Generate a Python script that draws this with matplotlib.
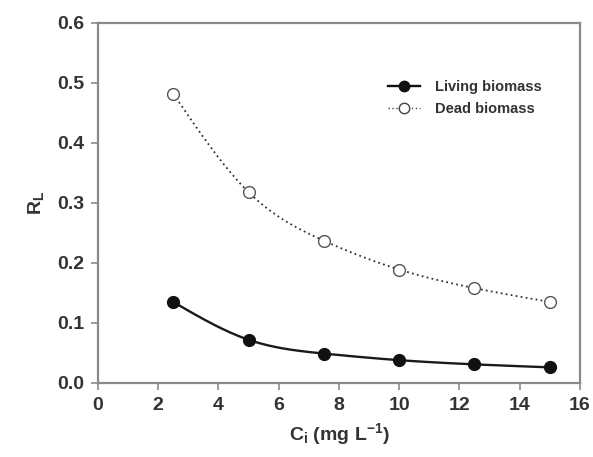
import matplotlib
matplotlib.use("Agg")
import matplotlib.pyplot as plt
import numpy as np

plt.rcParams['font.family'] = ['Liberation Sans', 'DejaVu Sans']
plt.rcParams['font.weight'] = 'bold'
plt.rcParams['axes.labelweight'] = 'bold'
plt.rcParams['mathtext.fontset'] = 'custom'
plt.rcParams['mathtext.rm'] = 'Liberation Sans:bold'
plt.rcParams['mathtext.bf'] = 'Liberation Sans:bold'
plt.rcParams['mathtext.default'] = 'bf'

# data
ci = [2.5, 5.0, 7.5, 10.0, 12.5, 15.0]
rl_living = [0.135, 0.072, 0.049, 0.038, 0.031, 0.026]
rl_dead = [0.482, 0.318, 0.237, 0.189, 0.158, 0.135]

xticks = [0, 2, 4, 6, 8, 10, 12, 14, 16]
yticks = [0.0, 0.1, 0.2, 0.3, 0.4, 0.5, 0.6]


def smooth(x, y, n=200):
    # natural cubic spline through the points, only for drawing the line
    x = np.asarray(x, float)
    y = np.asarray(y, float)
    k = len(x)
    h = np.diff(x)
    A = np.zeros((k, k))
    r = np.zeros(k)
    A[0, 0] = A[-1, -1] = 1
    for i in range(1, k - 1):
        A[i, i - 1] = h[i - 1]
        A[i, i] = 2 * (h[i - 1] + h[i])
        A[i, i + 1] = h[i]
        r[i] = 6 * ((y[i + 1] - y[i]) / h[i] - (y[i] - y[i - 1]) / h[i - 1])
    m = np.linalg.solve(A, r)
    xs = np.linspace(x[0], x[-1], n)
    idx = np.clip(np.searchsorted(x, xs) - 1, 0, k - 2)
    t = xs - x[idx]
    hi = h[idx]
    a = (m[idx + 1] - m[idx]) / (6 * hi)
    b = m[idx] / 2
    c = (y[idx + 1] - y[idx]) / hi - hi * (2 * m[idx] + m[idx + 1]) / 6
    ys = y[idx] + c * t + b * t ** 2 + a * t ** 3
    return xs, ys


fig = plt.figure(figsize=(5.93, 4.57), dpi=100)
ax = fig.add_axes([0.165, 0.162, 0.813, 0.788])

txt = '#333333'
grey = '#8a8a8a'

xs, ys = smooth(ci, rl_living)
ax.plot(xs, ys, color='#1a1a1a', lw=1.7)
xs, ys = smooth(ci, rl_dead)
ax.plot(xs, ys, color='#333333', lw=1.3, ls=(0, (1, 1.8)))

ax.plot(ci, rl_living, 'o', color='#111111', ms=8.5, mec='#111111')
ax.plot(ci, rl_dead, 'o', mfc='white', mec='#555555', ms=8.5, mew=1.0)

# legend proxies
ax.plot([], [], '-o', color='#111111', ms=7.5, lw=1.7, label='Living biomass')
ax.plot([], [], 'o', ls=(0, (1, 1.8)), color='#444444', mfc='white', ms=7.5, lw=1.0,
        label='Dead biomass')
handles, labels = ax.get_legend_handles_labels()
leg = ax.legend(handles[-2:], labels[-2:], loc='upper left', bbox_to_anchor=(0.59, 0.857),
                frameon=False, fontsize=10.5, handlelength=2.2, handletextpad=1.0,
                labelspacing=0.55, borderaxespad=0)
for t in leg.get_texts():
    t.set_color(txt)

ax.set_xlim(0, 16)
ax.set_ylim(0, 0.6)
ax.set_xticks(xticks)
ax.set_yticks(yticks)
ax.set_xticklabels([str(v) for v in xticks])
ax.set_yticklabels(['%.1f' % v for v in yticks])
ax.tick_params(direction='out', length=5, width=1.2, color=grey, labelsize=14,
               labelcolor=txt, pad=5)
for s in ax.spines.values():
    s.set_color(grey)
    s.set_linewidth(1.6)

ax.set_xlabel(r'C$_{i}$ (mg L$^{-1}$)', fontsize=14, color=txt, labelpad=5,
              fontweight='bold')
ax.set_ylabel(r'R$_{L}$', fontsize=14, color=txt, labelpad=8, fontweight='bold')

fig.savefig('out.png', dpi=100)
